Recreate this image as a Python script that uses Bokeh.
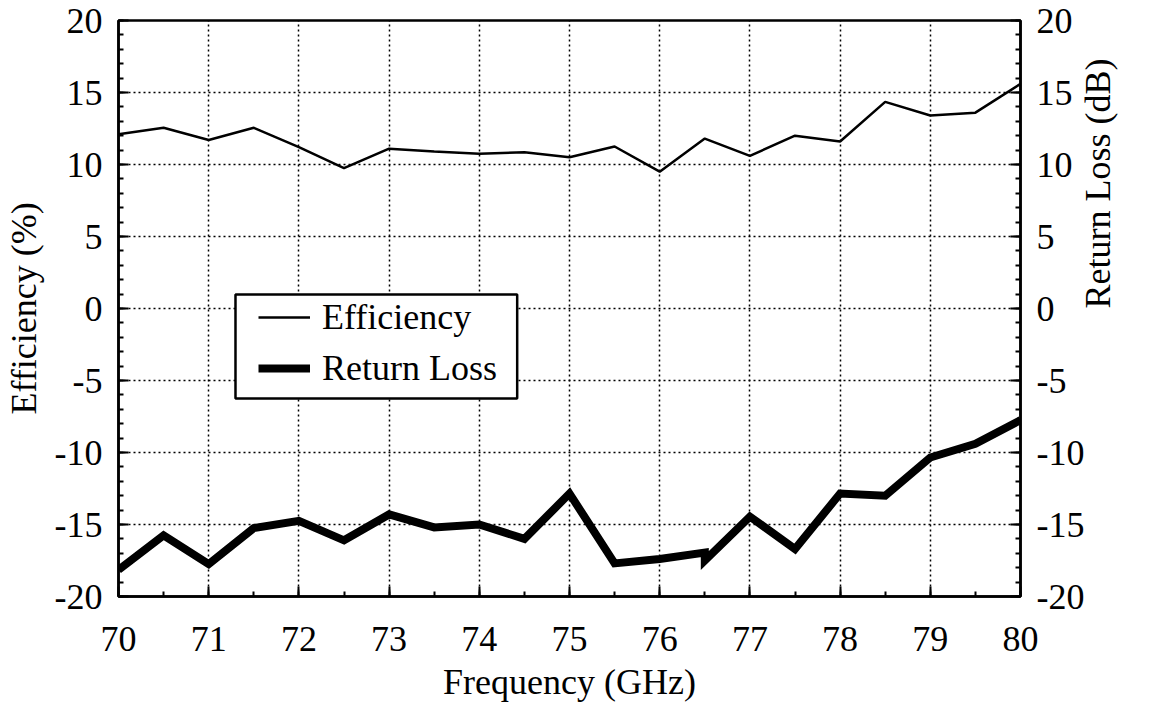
import math
from bokeh.plotting import figure
from bokeh.models import (Range1d, LinearAxis, SingleIntervalTicker, FixedTicker, Legend,
                          LegendItem, PrintfTickFormatter, BoxAnnotation)
from bokeh.embed import file_html
from bokeh.resources import INLINE

freq = [70, 70.5, 71, 71.5, 72, 72.5, 73, 73.5, 74, 74.5, 75, 75.5, 76, 76.5,
        77, 77.5, 78, 78.5, 79, 79.5, 80]
efficiency = [12.1, 12.55, 11.7, 12.55, 11.2, 9.75, 11.1, 10.9, 10.75, 10.85, 10.5,
              11.25, 9.5, 11.8, 10.6, 12.0, 11.6, 14.35, 13.4, 13.6, 15.6]
rl_freq = [70, 70.5, 71, 71.5, 72, 72.5, 73, 73.5, 74, 74.5, 75, 75.5, 76, 76.5, 76.5,
           77, 77.5, 78, 78.5, 79, 79.5, 80]
return_loss = [-18.15, -15.75, -17.75, -15.25, -14.75, -16.1, -14.3, -15.2, -15.0, -16.0,
               -12.85, -17.7, -17.4, -16.95, -17.5, -14.45, -16.7, -12.85, -13.0, -10.35,
               -9.4, -7.75]

FONT = "Liberation Serif"
FS = "36px"

p = figure(width=1156, height=714, output_backend="svg", toolbar_location=None,
           x_range=Range1d(70, 80), y_range=Range1d(-20, 20),
           min_border_left=118, min_border_right=136, min_border_top=20,
           min_border_bottom=118)
p.extra_y_ranges = {"rl": Range1d(-20, 20)}
p.background_fill_color = "white"
p.outline_line_color = "black"
p.outline_line_width = 2.5

xt = SingleIntervalTicker(interval=1, num_minor_ticks=2)
yt = SingleIntervalTicker(interval=5, num_minor_ticks=5)
p.xaxis.ticker = xt
p.yaxis.ticker = yt

p.xgrid.ticker = xt
p.ygrid.ticker = yt
for g in (p.xgrid, p.ygrid):
    g.grid_line_color = "black"
    g.grid_line_dash = "2 3"
    g.grid_line_width = 1.5

ax_r = LinearAxis(y_range_name="rl", ticker=SingleIntervalTicker(interval=5, num_minor_ticks=5))
p.add_layout(ax_r, "right")

for ax in (p.xaxis[0], p.yaxis[0], ax_r):
    ax.formatter = PrintfTickFormatter(format="%d")
    ax.major_tick_in = 10
    ax.major_tick_out = 0
    ax.minor_tick_in = 5
    ax.minor_tick_out = 0
    ax.major_tick_line_width = 2
    ax.minor_tick_line_width = 2
    ax.axis_line_width = 2.5
    ax.axis_line_color = "black"
    ax.major_tick_line_color = "black"
    ax.minor_tick_line_color = "black"
    ax.major_label_text_font = FONT
    ax.major_label_text_font_size = FS
    ax.major_label_text_color = "black"
    ax.axis_label_text_font = FONT
    ax.axis_label_text_font_size = FS
    ax.axis_label_text_font_style = "normal"
    ax.axis_label_text_color = "black"

p.xaxis.axis_label = "Frequency (GHz)"
p.yaxis[0].axis_label = "Efficiency (%)"
p.xaxis.major_label_standoff = 30
p.xaxis.axis_label_standoff = 8
p.yaxis[0].major_label_standoff = 16
p.yaxis[0].axis_label_standoff = 8
ax_r.major_label_standoff = 16

# right-hand title: carried by a bare axis (no line, no ticks) so that it reads
# bottom-to-top; the text starts at the middle of the bare axis' extent
ax_t = LinearAxis(y_range_name="rl", bounds=(-20, 0), ticker=FixedTicker(ticks=[]),
                  axis_label="Return Loss (dB)")
ax_t.axis_line_alpha = 0
ax_t.major_tick_in = 0
ax_t.major_tick_out = 0
ax_t.minor_tick_in = 0
ax_t.minor_tick_out = 0
ax_t.major_label_text_font_size = "0px"
ax_t.major_label_standoff = 0
ax_t.axis_label_standoff = 10
ax_t.axis_label_orientation = math.pi / 2
ax_t.axis_label_text_font = FONT
ax_t.axis_label_text_font_size = FS
ax_t.axis_label_text_font_style = "normal"
ax_t.axis_label_text_color = "black"
p.add_layout(ax_t, "right")

r1 = p.line(freq, efficiency, line_color="black", line_width=2.5)
r2 = p.line(rl_freq, return_loss, line_color="black", line_width=8,
            y_range_name="rl", line_join="miter")

# legend frame
p.add_layout(BoxAnnotation(left=71.297, right=74.42, top=0.97, bottom=-6.25,
                           fill_color="white", fill_alpha=1.0,
                           line_color="black", line_width=2.5, line_alpha=1.0))

legend = Legend(items=[LegendItem(label="Efficiency", renderers=[r1]),
                       LegendItem(label="Return Loss", renderers=[r2])],
                location=(135, 202))
legend.label_text_font = FONT
legend.label_text_font_size = FS
legend.label_text_color = "black"
legend.border_line_alpha = 0
legend.background_fill_alpha = 0
legend.glyph_width = 52
legend.glyph_height = 34
legend.label_height = 34
legend.label_standoff = 12
legend.padding = 5
legend.spacing = 9
legend.margin = 0
p.add_layout(legend, "center")

open("out.html", "w").write(file_html(p, INLINE))
